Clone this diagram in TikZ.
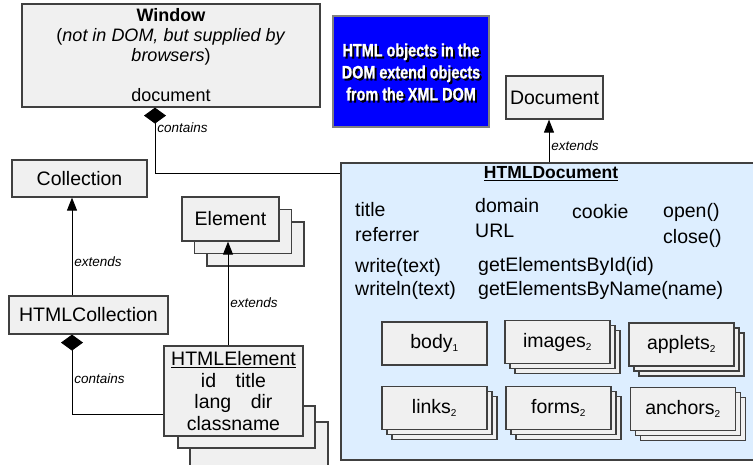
\documentclass[tikz,border=0pt]{standalone}
\usepackage{fontspec}
\setmainfont{Liberation Sans}
\newfontfamily\posterfont{Liberation Sans}[FakeStretch=0.8,FakeBold=1]
\usetikzlibrary{arrows.meta, shadows}

\newcommand{\regsize}{\fontsize{19.5}{21.5}\selectfont}
\newcommand{\lblsize}{\fontsize{13.5}{15}\selectfont\itshape}
\newcommand{\sub}[1]{\textsubscript{\fontsize{10}{10}\selectfont #1}}

\definecolor{boxgray}{HTML}{F0F0F0}
\definecolor{edgegray}{HTML}{404040}
\definecolor{docblue}{HTML}{DDEEFF}
\definecolor{noteblue}{HTML}{0000FF}

\begin{document}
\begin{tikzpicture}[x=1pt, y=-1pt,
  box/.style={draw=edgegray, line width=1.2pt, fill=boxgray, inner sep=0pt, font=\regsize},
  stack/.style={double copy shadow={shadow xshift=#1, shadow yshift=-#1}},
  member/.style={box, minimum width=105pt, minimum height=43pt},
  field/.style={anchor=west, inner sep=0pt, font=\regsize},
  notetext/.style={align=center, inner sep=0pt, font=\posterfont\bfseries\fontsize{18}{22}\selectfont},
  lbl/.style={right, inner sep=2pt, font=\lblsize},
  extends/.style={draw=black, line width=0.9pt, -{Triangle[length=13pt,width=10pt]}},
  contains/.style={draw=black, line width=0.9pt, {Diamond[length=16pt,width=22pt]}-}]
\useasboundingbox (0,0) rectangle (753,465);
\clip (0,0) rectangle (753,465);

% window and the note
\node[box, minimum width=298pt, minimum height=103pt, align=center, font=\fontsize{18}{20}\selectfont] (window) at (171,55.5)
  {\textbf{Window}\\(\textit{not in DOM, but supplied by}\\\textit{browsers})\\[20pt]document};
\node[draw=gray, line width=1.2pt, fill=noteblue, minimum width=156pt, minimum height=111pt] (note) at (411,71.5) {};
\node[notetext, black] (noteshadow) at (413,74) {HTML objects in the\\DOM extend objects\\from the XML DOM};
\node[notetext, white] (notetext) at (411,72) {HTML objects in the\\DOM extend objects\\from the XML DOM};
\node[box, minimum width=97pt, minimum height=43pt] (doc) at (554.5,97.5) {Document};

% HTMLDocument
\node[box, fill=docblue, minimum width=430pt, minimum height=297pt] (htmldoc) at (556,311.5) {};
\node[inner sep=0pt, font=\fontsize{17.5}{20}\selectfont\bfseries] (htmldoctitle) at (551,174) {\underline{HTMLDocument}};
\node[field] (ftitle) at (355,210) {title};
\node[field] (freferrer) at (355,235) {referrer};
\node[field] (fdomain) at (475,206) {domain};
\node[field] (furl) at (475,231) {URL};
\node[field] (fcookie) at (572,212) {cookie};
\node[field] (fopen) at (663,212) {open()};
\node[field] (fclose) at (663,238) {close()};
\node[field] (fwrite) at (355,267) {write(text)};
\node[field] (fwriteln) at (355,290) {writeln(text)};
\node[field] (fbyid) at (478,266) {getElementsById(id)};
\node[field] (fbyname) at (478,290) {getElementsByName(name)};

\node[member] (body) at (434.5,343.5) {body\sub{1}};
\node[member, stack=5pt] (images) at (557.5,342) {images\sub{2}};
\node[member, stack=5pt] (applets) at (681.5,344.5) {applets\sub{2}};
\node[member, stack=5pt] (links) at (434.5,408) {links\sub{2}};
\node[member, stack=5pt] (forms) at (558.5,408) {forms\sub{2}};
\node[member, stack=5pt] (anchors) at (683,409) {anchors\sub{2}};

% left column
\node[box, minimum width=135pt, minimum height=37pt] (coll) at (79.5,178.5) {Collection};
\node[box, minimum width=159pt, minimum height=38pt] (hcoll) at (88.5,315) {HTMLCollection};
\node[box, minimum width=97pt, minimum height=44pt, stack=12.5pt] (elem) at (230.5,219) {Element};
\draw[box] (190,422) rectangle (328,480);
\draw[box] (178,406) rectangle (315,448);
\node[box, minimum width=139pt, minimum height=90pt, align=center] (helem) at (233.5,391)
  {\underline{HTMLElement}\\id\quad title\\lang\quad dir\\classname};

% connectors
\coordinate (winarr) at ([xshift=-16pt]window.south);
\draw[contains] (winarr) |- ([yshift=-11pt]htmldoc.north west) node[lbl, pos=0.155] (lblwin) {contains};
\coordinate (docarr) at ([xshift=-5.5pt]doc.south);
\draw[extends] (docarr |- htmldoc.north) -- (docarr) node[lbl, pos=0.4] (lbldoc) {extends};
\coordinate (collarr) at ([xshift=-16.5pt]hcoll.north);
\draw[extends] (collarr) -- (collarr |- coll.south) node[lbl, pos=0.34] (lblcoll) {extends};
\coordinate (elemarr) at ([xshift=-5.5pt]helem.north);
\draw[extends] (elemarr) -- (elemarr |- elem.south) node[lbl, pos=0.41] (lblelem) {extends};
\coordinate (hcollarr) at ([xshift=-16.5pt]hcoll.south);
\draw[contains] (hcollarr) |- ([yshift=-23pt]helem.west) node[lbl, pos=0.275] (lblhcoll) {contains};
\end{tikzpicture}
\end{document}
